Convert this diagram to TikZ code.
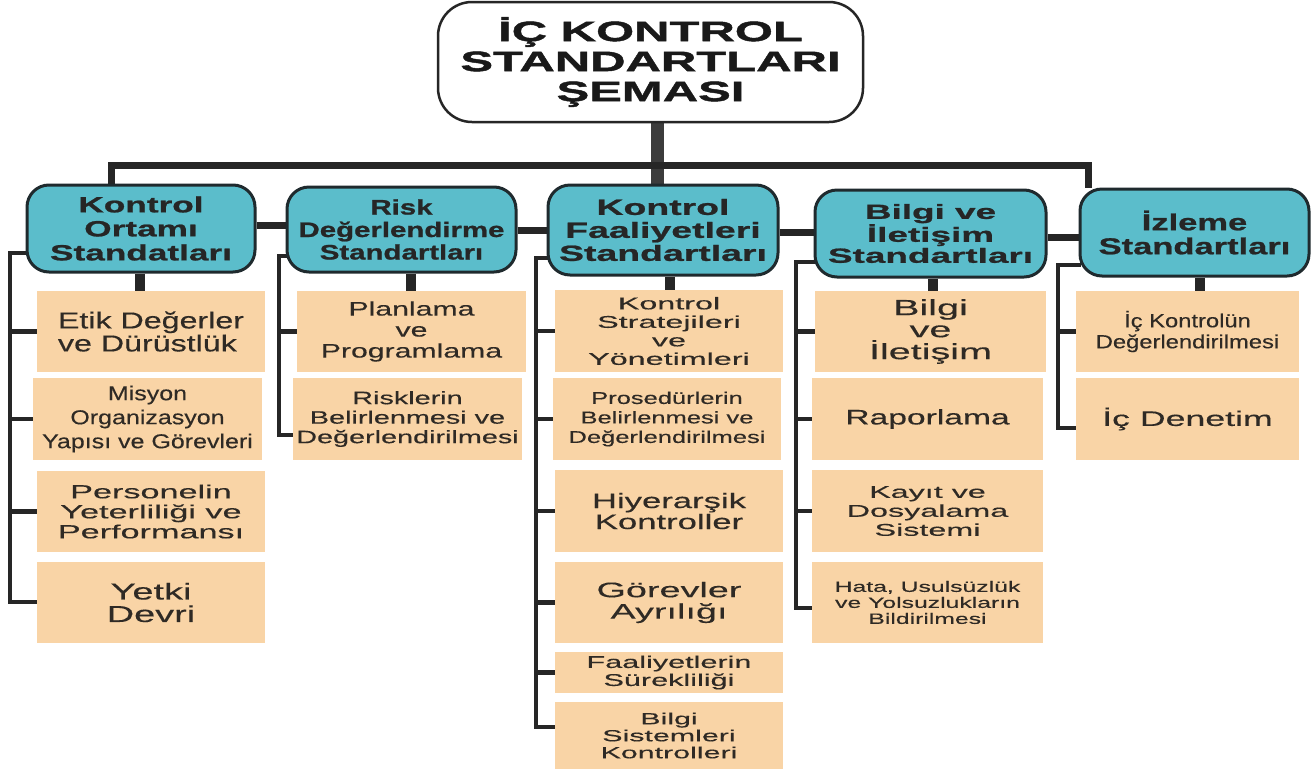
\documentclass[tikz,border=0pt]{standalone}
\usepackage{fontspec}
\setmainfont{Liberation Sans}
\newcommand\mkw[2]{\newfontfamily#1[FakeStretch=#2,FakeBold=0.3]{Liberation Sans}}
\newcommand\mkh[2]{\newfontfamily#1[FakeStretch=#2,FakeBold=1.0]{Liberation Sans}}
\mkw\sxA{1.25}
\mkw\sxB{1.4}
\mkw\sxC{1.45}
\mkw\sxD{1.5}
\mkw\sxE{1.55}
\mkw\sxF{1.6}
\mkw\sxG{1.65}
\mkw\sxH{1.7}
\mkw\sxI{1.75}
\mkw\sxJ{1.8}
\mkw\sxK{1.85}
\mkw\sxL{1.9}
\mkh\hxA{1.6}
\mkh\hxB{1.4}
\mkh\hxC{1.7}
\mkh\hxD{1.8}
\mkh\hxE{1.5}
\newfontfamily\sxT[FakeStretch=1.75,FakeBold=1.6]{Liberation Sans}
\definecolor{tealc}{HTML}{5BBDCB}
\definecolor{peach}{HTML}{F9D4A6}
\definecolor{ln}{HTML}{262626}
\definecolor{hb}{HTML}{1F2A2E}
\definecolor{tx}{HTML}{2F2A25}
\pgfdeclarelayer{bg}
\pgfsetlayers{bg,main}
\newcommand\rbox[7]{\node[#6,minimum width={#4pt-#2pt},minimum height={#5pt-#3pt}] (#1) at ({(#2+#4)/2},{(#3+#5)/2}) {#7};}
\tikzset{
  ttl/.style={fill=white,draw=ln,line width=2.5pt,rounded corners=34pt,inner sep=0pt,align=center,text=black!90},
  hdr/.style={fill=tealc,draw=hb,line width=3pt,rounded corners=22pt,inner sep=0pt,align=center,text=black!85},
  item/.style={fill=peach,inner sep=0pt,align=center,text=tx},
  bus/.style={draw=ln,line width=7pt,line join=miter},
  stem/.style={draw=ln!90,line width=13pt},
  link/.style={draw=ln,line width=7pt},
  stub/.style={draw=ln,line width=10pt},
  br/.style={draw=ln,line width=4.5pt,line join=miter,line cap=rect}
}
\begin{document}
\begin{tikzpicture}[x=1pt,y=-1pt]
\useasboundingbox (0,0) rectangle (1314,769);
% title
\rbox{title}{438}{2}{863}{122}{ttl,font={\sxT\bfseries\fontsize{28}{30}\selectfont}}{İÇ KONTROL\\STANDARTLARI\\ŞEMASI}
% headers
\rbox{h1}{27}{185}{255}{272}{hdr,font={\hxA\bfseries\fontsize{22}{24}\selectfont}}{Kontrol\\Ortamı\\Standatları}
\rbox{h2}{287}{187}{516}{272}{hdr,font={\hxB\bfseries\fontsize{21}{22.5}\selectfont}}{Risk\\Değerlendirme\\Standartları}
\rbox{h3}{548}{185}{778}{275}{hdr,font={\hxC\bfseries\fontsize{22}{23}\selectfont}}{Kontrol\\Faaliyetleri\\Standartları}
\rbox{h4}{815}{190}{1046}{277}{hdr,font={\hxD\bfseries\fontsize{20.5}{21}\selectfont}}{Bilgi ve\\İletişim\\Standartları}
\rbox{h5}{1080}{189}{1309}{276}{hdr,font={\hxE\bfseries\fontsize{23}{24}\selectfont}}{İzleme\\Standartları}
% column 1
\rbox{i11}{37}{291}{265}{372}{item,align=left,font={\sxB\fontsize{23}{23}\selectfont}}{Etik Değerler\\ve Dürüstlük}
\rbox{i12}{33}{378}{262}{460}{item,font={\sxA\fontsize{20}{24}\selectfont}}{Misyon\\Organizasyon\\Yapısı ve Görevleri}
\rbox{i13}{37}{471}{265}{552}{item,font={\sxJ\fontsize{19}{20}\selectfont}}{Personelin\\Yeterliliği ve\\Performansı}
\rbox{i14}{37}{562}{265}{643}{item,font={\sxG\fontsize{23}{22.5}\selectfont}}{Yetki\\Devri}
% column 2
\rbox{i21}{297}{291}{526}{372}{item,font={\sxE\fontsize{19.5}{21}\selectfont}}{Planlama\\ve\\Programlama}
\rbox{i22}{293}{378}{522}{460}{item,font={\sxF\fontsize{18}{19.5}\selectfont}}{Risklerin\\Belirlenmesi ve\\Değerlendirilmesi}
% column 3
\rbox{i31}{555}{290}{783}{372}{item,font={\sxL\fontsize{17}{18.5}\selectfont}}{Kontrol\\Stratejileri\\ve\\Yönetimleri}
\rbox{i32}{553}{378}{781}{460}{item,font={\sxD\fontsize{17}{19.5}\selectfont}}{Prosedürlerin\\Belirlenmesi ve\\Değerlendirilmesi}
\rbox{i33}{555}{470}{783}{552}{item,font={\sxG\fontsize{21}{21}\selectfont}}{Hiyerarşik\\Kontroller}
\rbox{i34}{555}{562}{783}{643}{item,font={\sxJ\fontsize{21}{21.5}\selectfont}}{Görevler\\Ayrılığı}
\rbox{i35}{555}{652}{783}{693}{item,font={\sxJ\fontsize{17}{18}\selectfont}}{Faaliyetlerin\\Sürekliliği}
\rbox{i36}{555}{702}{783}{769}{item,font={\sxL\fontsize{16}{17}\selectfont}}{Bilgi\\Sistemleri\\Kontrolleri}
% column 4
\rbox{i41}{815}{291}{1046}{372}{item,font={\sxJ\fontsize{22}{22}\selectfont}}{Bilgi\\ve\\İletişim}
\rbox{i42}{812}{378}{1043}{460}{item,font={\sxF\fontsize{21}{24}\selectfont}}{Raporlama}
\rbox{i43}{812}{470}{1043}{552}{item,font={\sxL\fontsize{17}{19}\selectfont}}{Kayıt ve\\Dosyalama\\Sistemi}
\rbox{i44}{812}{562}{1043}{643}{item,font={\sxG\fontsize{15}{16}\selectfont}}{Hata, Usulsüzlük\\ve Yolsuzlukların\\Bildirilmesi}
% column 5
\rbox{i51}{1076}{291}{1299}{372}{item,font={\sxA\fontsize{19}{21}\selectfont}}{İç Kontrolün\\Değerlendirilmesi}
\rbox{i52}{1076}{378}{1299}{460}{item,font={\sxH\fontsize{21}{24}\selectfont}}{İç Denetim}
% helper coordinates
\coordinate (d1) at (111,165);
\coordinate (d5) at (1088,165);
\coordinate (s0) at (657,0);
\coordinate (L12) at (0,225);
\coordinate (L23) at (0,230);
\coordinate (L34) at (0,232);
\coordinate (L45) at (0,237);
\coordinate (c1t) at (10,253);  \coordinate (c1b) at (10,602);
\coordinate (c2t) at (279,256); \coordinate (c2b) at (279,435);
\coordinate (c3t) at (536,258); \coordinate (c3b) at (536,727);
\coordinate (c4t) at (796,262); \coordinate (c4b) at (796,608);
\coordinate (c5t) at (1058,265); \coordinate (c5b) at (1058,428);
\begin{pgfonlayer}{bg}
\fill[white] (0,0) rectangle (1314,769);
% stem and bus
\draw[stem] (title.south -| s0) -- (h3.north -| s0);
\draw[bus] (h1.north -| d1) -- (d1) -- (d5) -- (h5.north -| d5);
% header links
\draw[link] (h1.east |- L12) -- (h2.west |- L12);
\draw[link] (h2.east |- L23) -- (h3.west |- L23);
\draw[link] (h3.east |- L34) -- (h4.west |- L34);
\draw[link] (h4.east |- L45) -- (h5.west |- L45);
% stubs
\draw[stub] ([xshift=-1pt]h1.south) -- ([xshift=-1pt]h1.south |- i11.north);
\draw[stub] ([xshift=9.5pt]h2.south) -- ([xshift=9.5pt]h2.south |- i21.north);
\draw[stub] ([xshift=7pt]h3.south) -- ([xshift=7pt]h3.south |- i31.north);
\draw[stub] ([xshift=2.5pt]h4.south) -- ([xshift=2.5pt]h4.south |- i41.north);
\draw[stub] ([xshift=5.5pt]h5.south) -- ([xshift=5.5pt]h5.south |- i51.north);
% brackets
\draw[br] (h1.west |- c1t) -- (c1t) -- (c1b) -- (i14.west |- c1b);
\foreach \n in {i11,i12,i13} \draw[br] (c1t |- \n.west) -- (\n.west);
\draw[br] (h2.west |- c2t) -- (c2t) -- (c2b) -- (i22.west |- c2b);
\foreach \n in {i21} \draw[br] (c2t |- \n.west) -- (\n.west);
\draw[br] (h3.west |- c3t) -- (c3t) -- (c3b) -- (i36.west |- c3b);
\foreach \n in {i31,i32,i33,i34,i35} \draw[br] (c3t |- \n.west) -- (\n.west);
\draw[br] (h4.west |- c4t) -- (c4t) -- (c4b) -- (i44.west |- c4b);
\foreach \n in {i41,i42,i43} \draw[br] (c4t |- \n.west) -- (\n.west);
\draw[br] (h5.west |- c5t) -- (c5t) -- (c5b) -- (i52.west |- c5b);
\foreach \n in {i51} \draw[br] (c5t |- \n.west) -- (\n.west);
\end{pgfonlayer}
\end{tikzpicture}
\end{document}
